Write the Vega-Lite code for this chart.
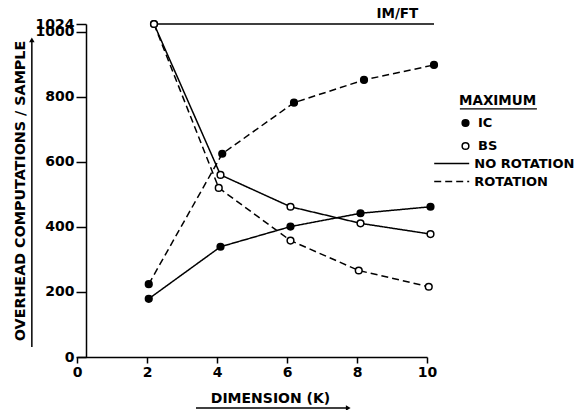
{
  "$schema": "https://vega.github.io/schema/vega-lite/v6.json",
  "width": 341,
  "height": 333,
  "autosize": {"type": "none"},
  "padding": {"left": 86, "top": 24, "right": 160, "bottom": 53},
  "background": "white",
  "config": {
    "view": {"stroke": null},
    "font": "DejaVu Sans",
    "axis": {"domainColor": "black", "tickColor": "black", "labelColor": "black", "titleColor": "black", "grid": false, "labelFont": "DejaVu Sans", "labelFontWeight": "bold", "labelFontSize": 14, "titleFont": "DejaVu Sans", "titleFontWeight": "bold", "titleFontSize": 13, "domainWidth": 1.5, "tickWidth": 1.5},
    "legend": {"labelFont": "DejaVu Sans", "labelFontWeight": "bold", "labelFontSize": 13, "labelColor": "black", "titleFont": "DejaVu Sans", "titleFontWeight": "bold", "titleFontSize": 13.5, "titleColor": "black"}
  },
  "datasets": {
    "curves": [
      {"series": "IC-NR", "kind": "IC", "rot": "NO ROTATION", "k": 2.05, "ops": 179},
      {"series": "IC-NR", "kind": "IC", "rot": "NO ROTATION", "k": 4.1, "ops": 339},
      {"series": "IC-NR", "kind": "IC", "rot": "NO ROTATION", "k": 6.1, "ops": 401},
      {"series": "IC-NR", "kind": "IC", "rot": "NO ROTATION", "k": 8.1, "ops": 442},
      {"series": "IC-NR", "kind": "IC", "rot": "NO ROTATION", "k": 10.1, "ops": 462},
      {"series": "IC-R", "kind": "IC", "rot": "ROTATION", "k": 2.05, "ops": 224},
      {"series": "IC-R", "kind": "IC", "rot": "ROTATION", "k": 4.15, "ops": 625},
      {"series": "IC-R", "kind": "IC", "rot": "ROTATION", "k": 6.2, "ops": 782},
      {"series": "IC-R", "kind": "IC", "rot": "ROTATION", "k": 8.2, "ops": 852},
      {"series": "IC-R", "kind": "IC", "rot": "ROTATION", "k": 10.2, "ops": 898},
      {"series": "BS-NR", "kind": "BS", "rot": "NO ROTATION", "k": 2.2, "ops": 1024},
      {"series": "BS-NR", "kind": "BS", "rot": "NO ROTATION", "k": 4.1, "ops": 560},
      {"series": "BS-NR", "kind": "BS", "rot": "NO ROTATION", "k": 6.1, "ops": 462},
      {"series": "BS-NR", "kind": "BS", "rot": "NO ROTATION", "k": 8.1, "ops": 411},
      {"series": "BS-NR", "kind": "BS", "rot": "NO ROTATION", "k": 10.1, "ops": 378},
      {"series": "BS-R", "kind": "BS", "rot": "ROTATION", "k": 2.2, "ops": 1024},
      {"series": "BS-R", "kind": "BS", "rot": "ROTATION", "k": 4.05, "ops": 520},
      {"series": "BS-R", "kind": "BS", "rot": "ROTATION", "k": 6.1, "ops": 358},
      {"series": "BS-R", "kind": "BS", "rot": "ROTATION", "k": 8.05, "ops": 266},
      {"series": "BS-R", "kind": "BS", "rot": "ROTATION", "k": 10.05, "ops": 216},
      {"series": "IM/FT", "kind": "IM/FT", "rot": "NO ROTATION", "k": 2.2, "ops": 1024},
      {"series": "IM/FT", "kind": "IM/FT", "rot": "NO ROTATION", "k": 10.2, "ops": 1024}
    ],
    "labels": [
      {"k": 9.75, "ops": 1024, "label": "IM/FT"}
    ]
  },
  "layer": [
    {
      "data": {"name": "curves"},
      "mark": {"type": "line", "color": "black", "strokeWidth": 1.5},
      "encoding": {
        "x": {"field": "k", "type": "quantitative",
          "scale": {"domain": [0, 10], "range": [-9, 341], "nice": false, "zero": false},
          "axis": {"values": [0, 2, 4, 6, 8, 10], "format": "d", "tickSize": 6, "labelPadding": 2, "title": "DIMENSION (K)", "titleX": 184, "titleY": 41, "titleAnchor": "middle", "titleAlign": "center", "titleBaseline": "middle", "labelFlush": false, "titleFontSize": 14}},
        "y": {"field": "ops", "type": "quantitative",
          "scale": {"domain": [0, 1024], "nice": false},
          "axis": {"values": [0, 200, 400, 600, 800, 1000, 1024], "format": "d", "tickSize": 10, "labelPadding": 2, "labelOverlap": false, "labelFlush": false, "title": "OVERHEAD COMPUTATIONS / SAMPLE", "titlePadding": 8, "titleFontSize": 14.3}},
        "detail": {"field": "series"},
        "strokeDash": {"field": "rot", "type": "nominal",
          "scale": {"domain": ["NO ROTATION", "ROTATION"], "range": [[1, 0], [7, 4]]},
          "legend": {"title": null, "orient": "none", "legendX": 358.7, "legendY": 132.5, "symbolType": "M-3,0H3", "symbolSize": 136, "symbolStrokeWidth": 1.5, "symbolStrokeColor": "black", "labelOffset": 15.6, "rowPadding": 4, "padding": 0}}
      }
    },
    {
      "data": {"name": "curves"},
      "transform": [{"filter": "datum.kind !== 'IM/FT'"}],
      "mark": {"type": "point", "shape": "circle", "filled": true, "stroke": "black", "strokeWidth": 1.5, "size": 45, "opacity": 1},
      "encoding": {
        "x": {"field": "k", "type": "quantitative"},
        "y": {"field": "ops", "type": "quantitative"},
        "fill": {"field": "kind", "type": "nominal",
          "scale": {"domain": ["IC", "BS"], "range": ["black", "white"]},
          "legend": {"title": "MAXIMUM", "orient": "none", "legendX": 373, "legendY": 70, "symbolType": "circle", "symbolSize": 45, "symbolStrokeColor": "black", "symbolStrokeWidth": 1.5, "labelOffset": 6, "rowPadding": 9, "titlePadding": 9, "padding": 0}}
      }
    },
    {
      "data": {"name": "labels"},
      "mark": {"type": "text", "align": "right", "baseline": "alphabetic", "dy": -6, "font": "DejaVu Sans", "fontWeight": "bold", "fontSize": 13.5, "color": "black"},
      "encoding": {
        "x": {"field": "k", "type": "quantitative"},
        "y": {"field": "ops", "type": "quantitative"},
        "text": {"field": "label"}
      }
    },
    {
      "data": {"values": [{}]},
      "mark": {"type": "rule", "color": "black", "strokeWidth": 1.5},
      "encoding": {"x": {"datum": 3.4}, "x2": {"datum": 7.75}, "y": {"datum": -157}}
    },
    {
      "data": {"values": [{}]},
      "mark": {"type": "point", "shape": "triangle-right", "filled": true, "color": "black", "size": 30, "opacity": 1},
      "encoding": {"x": {"datum": 7.75}, "y": {"datum": -157}}
    },
    {
      "data": {"values": [{}]},
      "mark": {"type": "rule", "color": "black", "strokeWidth": 1.5},
      "encoding": {"x": {"datum": -1.29}, "y": {"datum": 31}, "y2": {"datum": 975}}
    },
    {
      "data": {"values": [{}]},
      "mark": {"type": "point", "shape": "triangle-up", "filled": true, "color": "black", "size": 30, "opacity": 1},
      "encoding": {"x": {"datum": -1.29}, "y": {"datum": 975}}
    },
    {
      "data": {"values": [{}]},
      "mark": {"type": "rule", "color": "black", "strokeWidth": 1.2},
      "encoding": {"x": {"datum": 10.94}, "x2": {"datum": 13.14}, "y": {"datum": 763}}
    }
  ]
}
